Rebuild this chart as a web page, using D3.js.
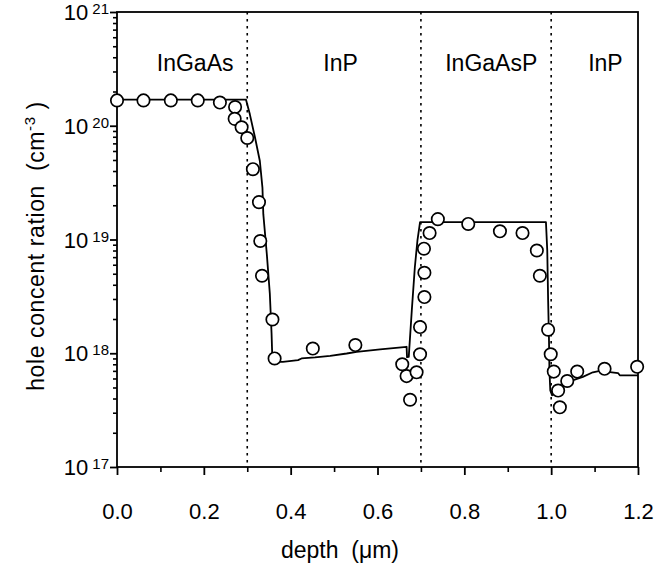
<!DOCTYPE html>
<html>
<head>
<meta charset="utf-8">
<script src="https://cdn.jsdelivr.net/npm/d3@7"></script>
<style>
  html, body { margin: 0; padding: 0; background: #fff; }
  svg text { font-family: "Liberation Sans", Arial, Helvetica, sans-serif; fill: #000; }
</style>
</head>
<body>
<svg id="chart" width="658" height="564"></svg>
<script>
// ---- data ----
const measDepth = [0.000, 0.061, 0.124, 0.186, 0.237, 0.272, 0.271, 0.287, 0.300, 0.313, 0.327, 0.330, 0.334, 0.358, 0.363, 0.451, 0.549,
                   0.657, 0.667, 0.675, 0.690, 0.698, 0.698, 0.708, 0.708, 0.707, 0.720, 0.739, 0.809, 0.882, 0.934, 0.967, 0.974,
                   0.993, 0.999, 1.006, 1.016, 1.020, 1.037, 1.060, 1.123, 1.198];
const measConc = [1.67e20, 1.67e20, 1.67e20, 1.67e20, 1.60e20, 1.46e20, 1.15e20, 9.7e19, 7.8e19, 4.15e19, 2.13e19, 9.7e18, 4.8e18, 1.98e18, 9.0e17, 1.10e18, 1.18e18,
                  8.0e17, 6.3e17, 3.9e17, 6.8e17, 9.8e17, 1.70e18, 3.12e18, 5.1e18, 8.3e18, 1.14e19, 1.51e19, 1.37e19, 1.18e19, 1.14e19, 8.0e18, 4.8e18,
                  1.61e18, 9.8e17, 6.9e17, 4.7e17, 3.35e17, 5.7e17, 6.9e17, 7.3e17, 7.6e17];

const simDepth = [0.000, 0.297, 0.306, 0.318, 0.329, 0.335, 0.337, 0.345, 0.352, 0.356, 0.358, 0.382, 0.417, 0.425, 0.456, 0.491, 0.529, 0.552, 0.606, 0.667,
                  0.668, 0.672, 0.679, 0.686, 0.692, 0.698, 0.988, 0.991, 0.993, 0.995, 0.996, 0.998, 1.002, 1.028, 1.051, 1.073, 1.096, 1.112, 1.154, 1.158, 1.200];
const simConc = [1.7e20, 1.7e20, 1.26e20, 7.85e19, 4.9e19, 2.86e19, 1.67e19, 7.5e18, 3.34e18, 1.49e18, 8.4e17, 8.4e17, 8.7e17, 9.0e17, 9.2e17, 9.5e17, 9.95e17, 1.03e18, 1.08e18, 1.14e18,
                 9.25e17, 9.3e17, 2.38e18, 5.7e18, 9.8e18, 1.42e19, 1.42e19, 8.0e18, 2.92e18, 1.30e18, 7.1e17, 4.7e17, 4.27e17, 5.1e17, 5.8e17, 6.2e17, 6.8e17, 7.0e17, 6.7e17, 6.4e17, 6.4e17];

const interfaces = [0.3, 0.7, 1.0];
const layerNames = ["InGaAs", "InP", "InGaAsP", "InP"];
const layerCenters = [0.18, 0.515, 0.862, 1.125];

const xTicks = [0, 0.2, 0.4, 0.6, 0.8, 1.0, 1.2];
const xMinor = [0.1, 0.3, 0.5, 0.7, 0.9, 1.1];
const yExponents = [17, 18, 19, 20, 21];

// ---- layout ----
const svg = d3.select("#chart");
const L = 117, R = 638, T = 12, B = 467;

const x = d3.scaleLinear().domain([0, 1.2]).range([L, R]);
const y = d3.scaleLog().domain([1e17, 1e21]).range([B, T]);

// interfaces (dotted)
svg.selectAll("line.iface").data(interfaces).enter().append("line")
  .attr("x1", d => x(d)).attr("x2", d => x(d))
  .attr("y1", T).attr("y2", B)
  .attr("stroke", "#000").attr("stroke-width", 1.6)
  .attr("stroke-dasharray", "2.5,4.5");

// frame
svg.append("rect").attr("x", L).attr("y", T).attr("width", R - L).attr("height", B - T)
  .attr("fill", "none").attr("stroke", "#000").attr("stroke-width", 1.8);

// x axis ticks
const xAxis = d3.axisBottom(x).tickValues(xTicks).tickSize(8).tickFormat(d3.format(".1f"));
const gx = svg.append("g").attr("transform", `translate(0,${B})`).call(xAxis);
gx.select(".domain").remove();
gx.selectAll(".tick line").attr("stroke-width", 1.8);
gx.selectAll(".tick text").attr("font-size", 22).attr("dy", null).attr("y", 52)
  .style("font-family", "Liberation Sans, Arial, sans-serif");
const xAxisMinor = d3.axisBottom(x).tickValues(xMinor).tickSize(5).tickFormat("");
const gxm = svg.append("g").attr("transform", `translate(0,${B})`).call(xAxisMinor);
gxm.select(".domain").remove();
gxm.selectAll(".tick line").attr("stroke-width", 1.6);

// y axis ticks
const yMajor = yExponents.map(e => Math.pow(10, e));
const yMinor = [];
for (let e = 17; e < 21; e++) for (let m = 2; m <= 9; m++) yMinor.push(m * Math.pow(10, e));
const yAxis = d3.axisLeft(y).tickValues(yMajor).tickSize(7).tickFormat("");
const gy = svg.append("g").attr("transform", `translate(${L},0)`).call(yAxis);
gy.select(".domain").remove();
gy.selectAll(".tick line").attr("stroke-width", 1.8);
const yAxisMinor = d3.axisLeft(y).tickValues(yMinor).tickSize(4).tickFormat("");
const gym = svg.append("g").attr("transform", `translate(${L},0)`).call(yAxisMinor);
gym.select(".domain").remove();
gym.selectAll(".tick line").attr("stroke-width", 1.6);

// y tick labels 10^n
const yl = svg.selectAll("text.ylab").data(yExponents).enter().append("text")
  .attr("class", "ylab")
  .attr("x", 109).attr("y", d => y(Math.pow(10, d)) + 8)
  .attr("text-anchor", "end").attr("font-size", 22);
yl.append("tspan").text("10");
yl.append("tspan").attr("dx", 4).attr("dy", -6).attr("font-size", 15).text(d => d);

// layer names
svg.selectAll("text.layer").data(layerNames).enter().append("text")
  .attr("class", "layer")
  .attr("x", (d, i) => x(layerCenters[i])).attr("y", 71)
  .attr("text-anchor", "middle").attr("font-size", 23).text(d => d);

// simulated line
const line = d3.line().x(d => x(d[0])).y(d => y(d[1]));
svg.append("path").datum(simDepth.map((d, i) => [d, simConc[i]]))
  .attr("d", line).attr("fill", "none").attr("stroke", "#000").attr("stroke-width", 1.8)
  .attr("stroke-linejoin", "round");

// measured points
svg.selectAll("circle.pt").data(measDepth.map((d, i) => [d, measConc[i]])).enter().append("circle")
  .attr("class", "pt")
  .attr("cx", d => x(d[0])).attr("cy", d => y(d[1])).attr("r", 6.2)
  .attr("fill", "#fff").attr("stroke", "#000").attr("stroke-width", 1.7);

// axis titles
svg.append("text").attr("x", 340).attr("y", 558).attr("text-anchor", "middle").attr("font-size", 23)
  .attr("xml:space", "preserve").text("depth  (\u03bcm)");

const yt = svg.append("text").attr("transform", "translate(44,246) rotate(-90)")
  .attr("text-anchor", "middle").attr("font-size", 23).attr("letter-spacing", 0.6).attr("xml:space", "preserve");
yt.append("tspan").text("hole concent ration  (cm");
yt.append("tspan").attr("dy", -9).attr("font-size", 15).text("-3");
yt.append("tspan").attr("dy", 9).text(" )");
</script>
</body>
</html>
